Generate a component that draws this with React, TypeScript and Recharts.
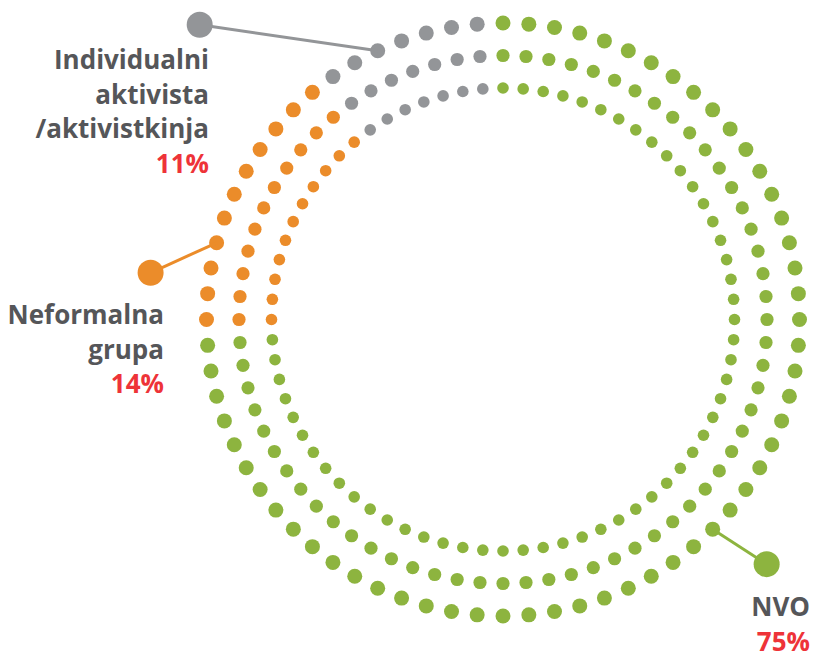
import { Pie, PieChart } from 'recharts';

const categories = ['NVO', 'Neformalna\ngrupa', 'Individualni\naktivista\n/aktivistkinja'];
const shares = [75, 14, 11];
const colors = ['#8db43f', '#eb8c2a', '#939598'];

const data = categories.map((name, i) => ({ name, value: shares[i], fill: colors[i] }));

const WIDTH = 814;
const HEIGHT = 655;
const CX = 503;
const CY = 319.5;
const STEP = 5; // degrees between two dots, same on every ring

const RINGS = [
  { radius: 296.5, dot: 7.5 },
  { radius: 264, dot: 6.6 },
  { radius: 231.5, dot: 5.8 },
];

// anchor: clockwise degrees from top of the dot the leader starts at
const LABELS = [
  { anchor: 135, marker: [54, 35], text: [810, 616] },
  { anchor: 285, marker: [-66, 30], text: [164, 324] },
  { anchor: 335, marker: [-178, -26], text: [209, 69] },
];

const TEXT_COLOR = '#555659';
const PCT_COLOR = '#ee3338';
const LINE_H = 34.5;

const polar = (cx: number, cy: number, r: number, deg: number) => {
  const rad = (deg * Math.PI) / 180;
  return { x: cx + r * Math.sin(rad), y: cy - r * Math.cos(rad) };
};

const dottedSector = (dotR: number) => (props: any) => {
  const { cx, cy, startAngle, endAngle, outerRadius, fill } = props;
  const from = 90 - startAngle;
  const to = 90 - endAngle;
  const dots = [];
  for (let a = Math.ceil(from / STEP - 1e-6) * STEP; a < to - 1e-6; a += STEP) {
    const p = polar(cx, cy, outerRadius, a);
    dots.push(<circle key={a} cx={p.x} cy={p.y} r={dotR} fill={fill} />);
  }
  return <g>{dots}</g>;
};

const renderLabel = (props: any) => {
  const { cx, cy, outerRadius, index, value } = props;
  const layout = LABELS[index];
  const color = colors[index];
  const a = polar(cx, cy, outerRadius, layout.anchor);
  const mx = a.x + layout.marker[0];
  const my = a.y + layout.marker[1];
  const lines = categories[index].split('\n');
  const [tx, ty] = layout.text;
  return (
    <g>
      <line x1={a.x} y1={a.y} x2={mx} y2={my} stroke={color} strokeWidth={3} />
      <circle cx={mx} cy={my} r={13} fill={color} />
      <text
        x={tx}
        y={ty}
        textAnchor="end"
        fontFamily="'Open Sans', sans-serif"
        fontWeight={700}
        fontSize={26}
        fill={TEXT_COLOR}
      >
        {lines.map((line, i) => (
          <tspan key={line} x={tx} y={ty + i * LINE_H}>
            {line}
          </tspan>
        ))}
        <tspan x={tx} y={ty + lines.length * LINE_H} fill={PCT_COLOR}>
          {value}%
        </tspan>
      </text>
    </g>
  );
};

export default function App() {
  return (
    <div style={{ position: 'absolute', left: 0, top: 0, width: WIDTH, height: HEIGHT, background: '#fff' }}>
      <PieChart width={WIDTH} height={HEIGHT} margin={{ top: 0, right: 0, bottom: 0, left: 0 }}>
        {RINGS.map((ring, i) => {
          const shape = dottedSector(ring.dot);
          return (
            <Pie
              key={ring.radius}
              data={data}
              dataKey="value"
              nameKey="name"
              cx={CX}
              cy={CY}
              startAngle={90}
              endAngle={-270}
              innerRadius={ring.radius - 1}
              outerRadius={ring.radius}
              stroke="none"
              shape={shape}
              activeShape={shape}
              inactiveShape={shape}
              label={i === 0 ? renderLabel : false}
              labelLine={false}
              isAnimationActive={false}
            />
          );
        })}
      </PieChart>
    </div>
  );
}
